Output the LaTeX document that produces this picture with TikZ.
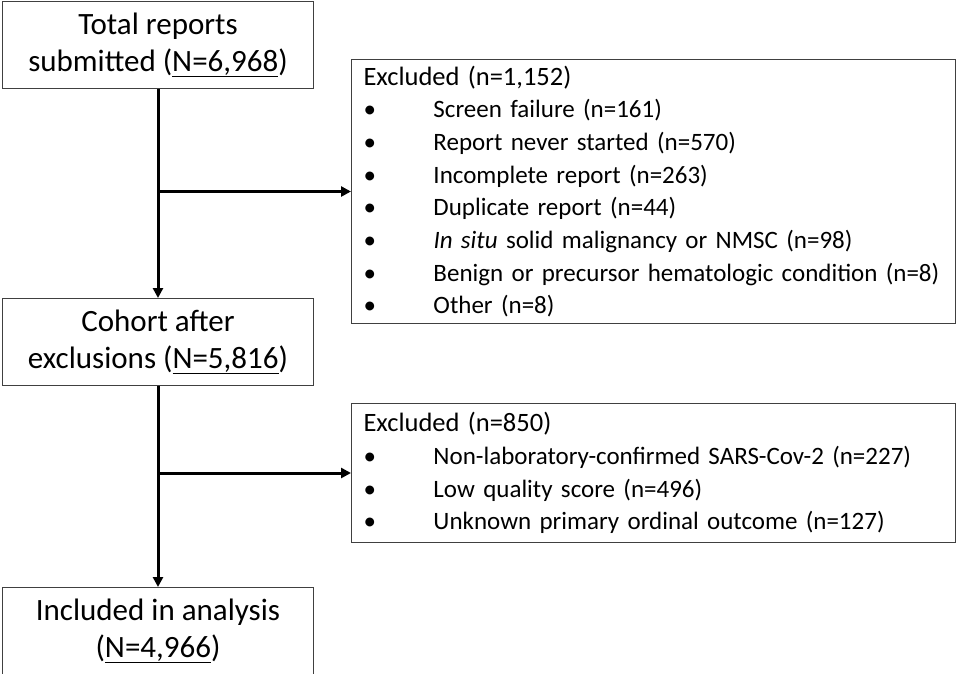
\documentclass[tikz,border=0pt]{standalone}
\usepackage{fontspec}
\setmainfont{Carlito}
\usetikzlibrary{arrows.meta}
\newcommand\bulletitem{\makebox[70pt][l]{•}}
\newcommand\exhead[1]{{\fontsize{26.5}{32.7}\selectfont #1}}
\tikzset{
  mainbox/.style={draw=black!75, line width=1pt, anchor=north west, minimum width=311pt, minimum height=87pt, inner sep=0pt, align=center, font=\fontsize{31}{37}\selectfont},
  exbox/.style={draw=black!75, line width=1pt, anchor=north west, text width=580pt, inner xsep=12pt, inner ysep=0pt, align=left, font=\fontsize{25}{32.7}\selectfont},
  flow/.style={line width=3pt, -{Triangle[length=10pt,width=10pt]}}
}
\begin{document}
\begin{tikzpicture}[x=1pt,y=-1pt]
\useasboundingbox (0,0) rectangle (956,673);
\node[mainbox] (b1) at (2,1) {Total reports\\submitted (\underline{N=6,968})};
\node[mainbox] (b3) at (2,298) {Cohort after\\exclusions (\underline{N=5,816})};
\node[mainbox] (b5) at (2,587) {Included in analysis\\(\underline{N=4,966})};
\node[exbox, minimum height=264pt] (x1) at (351,59) {\exhead{Excluded (n=1,152)}\\
\bulletitem Screen failure (n=161)\\
\bulletitem Report never started (n=570)\\
\bulletitem Incomplete report (n=263)\\
\bulletitem Duplicate report (n=44)\\
\bulletitem \textit{In situ} solid malignancy or NMSC (n=98)\\
\bulletitem Benign or precursor hematologic condition (n=8)\\
\bulletitem Other (n=8)};
\node[exbox, minimum height=139pt] (x2) at (351,403) {\exhead{Excluded (n=850)}\\
\bulletitem Non-laboratory-confirmed SARS-Cov-2 (n=227)\\
\bulletitem Low quality score (n=496)\\
\bulletitem Unknown primary ordinal outcome (n=127)};
\coordinate (j1) at (b1.south |- x1.west);
\coordinate (j2) at (b3.south |- x2.west);
\draw[flow] (b1.south) -- (b3.north);
\draw[flow] (b3.south) -- (b5.north);
\draw[flow] (j1) -- (x1.west);
\draw[flow] (j2) -- (x2.west);
\end{tikzpicture}
\end{document}
